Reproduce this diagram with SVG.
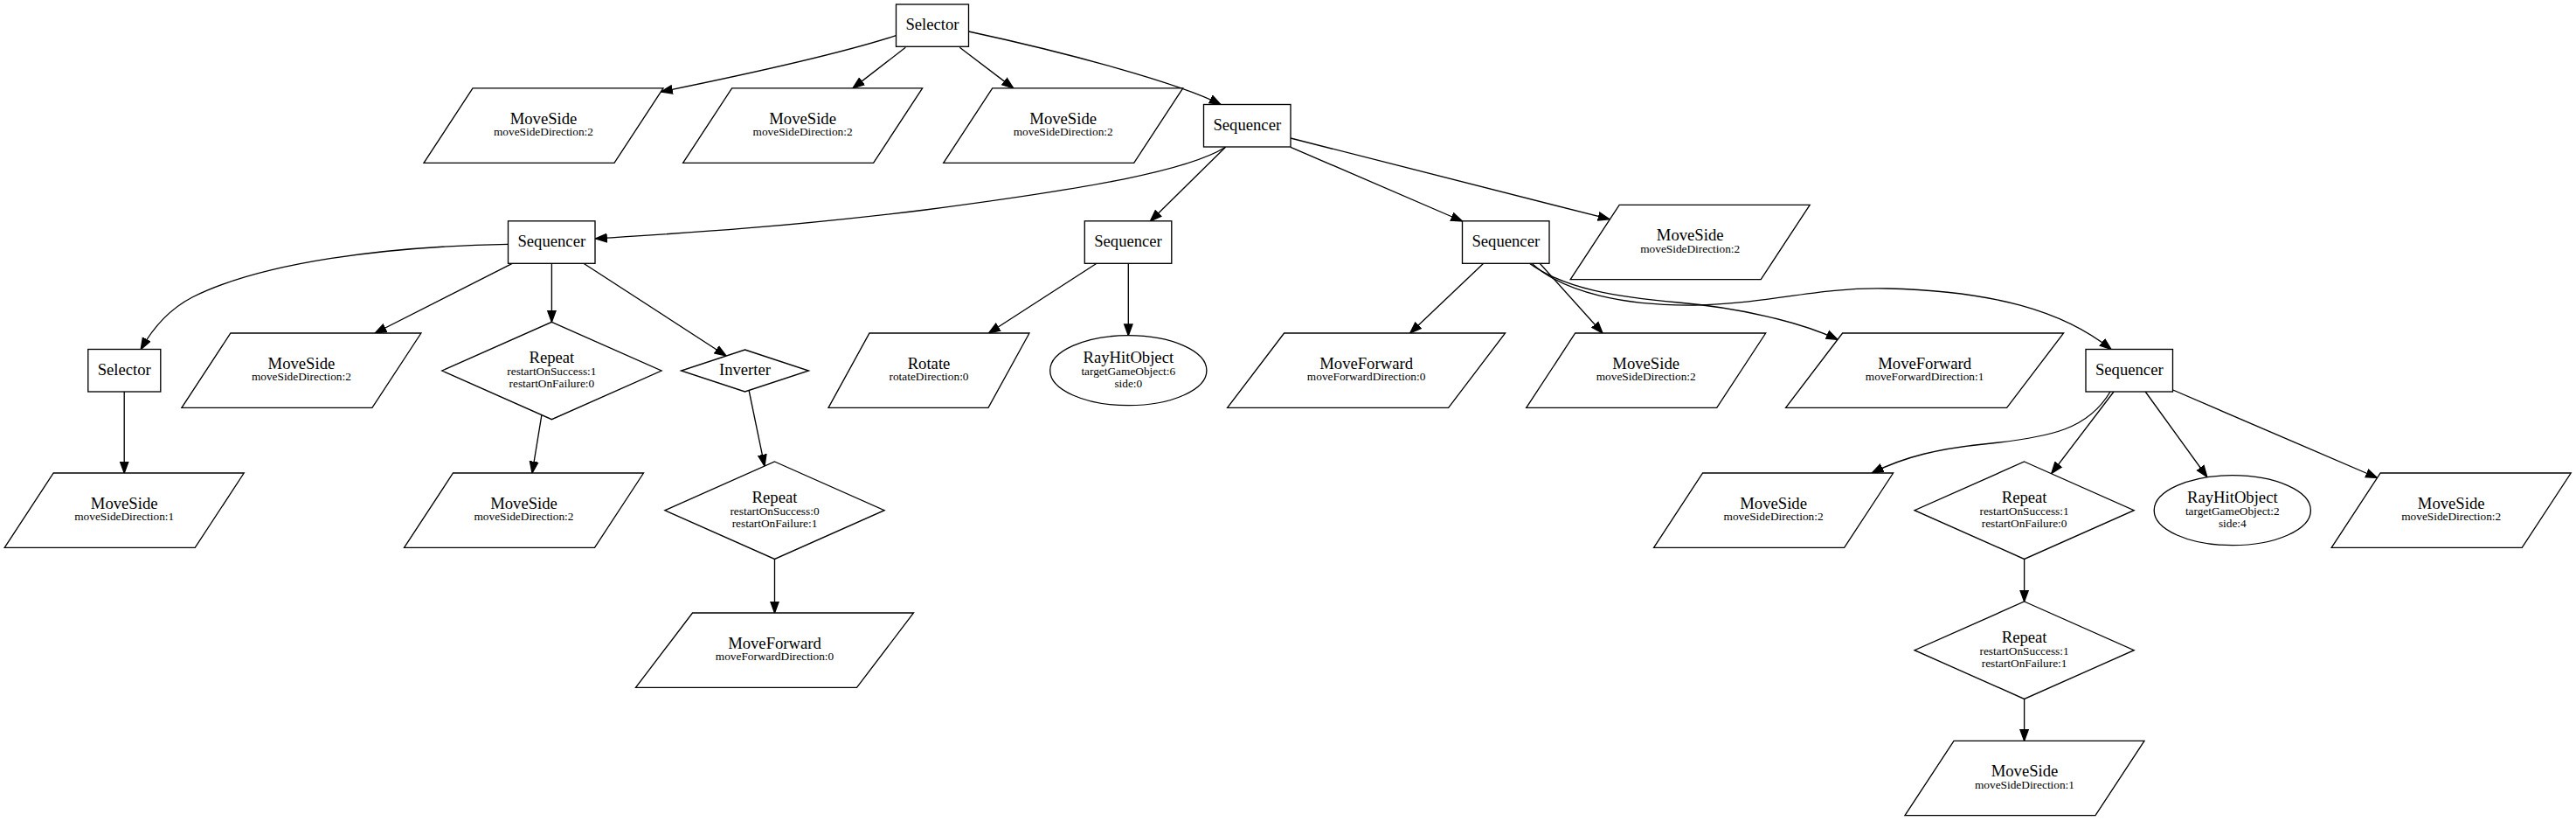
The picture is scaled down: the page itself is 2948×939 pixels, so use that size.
<svg xmlns="http://www.w3.org/2000/svg" width="2948" height="939" viewBox="0 0 2948 939">
<style>
.n polygon, .n rect, .n ellipse { fill: #fff; stroke: #000; stroke-width: 1.33; }
.e path { fill: none; stroke: #000; stroke-width: 1.33; marker-end: url(#arr); }
text { font-family: "Liberation Serif", "Times New Roman", serif; text-anchor: middle; fill: #000; }
.m { font-size: 18.67px; }
.s { font-size: 13.33px; }
</style>
<defs>
<marker id="arr" markerUnits="userSpaceOnUse" markerWidth="16" markerHeight="12" refX="13.3" refY="6" orient="auto" viewBox="0 0 16 12">
<path d="M0.5,1.33 L13.3,6 L0.5,10.67 Z" fill="#000" stroke="#000" stroke-width="1.33"/>
</marker>
</defs>
<rect x="0" y="0" width="2948" height="939" fill="#fff"/>

<g id="connectors" class="e">
<path d="M1025.4,40.7 C960,62 840,88 756.5,105"/>
<path d="M1036.3,54.3 L976,100.9"/>
<path d="M1098.3,54.3 L1159.7,100.9"/>
<path d="M1108.5,36 C1220,60 1350,95 1397,119.5"/>
<path d="M1402.5,168.3 C1360,195 1250,215 1059,240 C900,260 760,268 681.5,273"/>
<path d="M1402.5,168.3 L1316.4,253"/>
<path d="M1477,168.3 L1673.5,253"/>
<path d="M1477,158 L1842,250.7"/>
<path d="M581.5,279.3 C440,282 300,300 220,340 C195,353 175,375 161.2,399.5"/>
<path d="M586.2,301.3 L429.1,381"/>
<path d="M631.4,301.3 L631.4,368.3"/>
<path d="M667.9,301.3 L831,407"/>
<path d="M142.2,448 L142.2,541"/>
<path d="M619.9,474.6 L609,541"/>
<path d="M857.1,446.5 L875,533"/>
<path d="M886.5,639.4 L886.5,701"/>
<path d="M1255,301.3 L1131.5,381"/>
<path d="M1291.3,301.3 L1291.3,383.7"/>
<path d="M1697.7,301.3 L1613.7,381"/>
<path d="M1762.2,301.3 L1834,381"/>
<path d="M1750.3,301.3 C1790,330 1850,340 1921,346 C1990,352 2060,368 2103,388.3"/>
<path d="M1753,301.3 C1790,335 1860,350 1940,349 C2020,348 2080,328 2160,330 C2280,333 2360,355 2416,399.5"/>
<path d="M2415,448 C2390,490 2350,500 2270,508 C2220,513 2180,522 2142.3,541"/>
<path d="M2419,448 L2347.8,541.5"/>
<path d="M2455.2,448 L2525.8,545.5"/>
<path d="M2486.7,446 L2720.5,546.5"/>
<path d="M2316.6,639.4 L2316.6,688"/>
<path d="M2316.6,799.4 L2316.6,847.3"/>
</g>

<g id="selector_root" class="n"><rect x="1025.5" y="5" width="83" height="48.3"/><text class="m" x="1067" y="34">Selector</text></g>

<g id="moveside_1" class="n"><polygon points="541,100.9 759,100.9 703,186.3 485,186.3"/><text class="m" x="622" y="141.6">MoveSide</text><text class="s" x="622" y="155.1">moveSideDirection:2</text></g>
<g id="moveside_2" class="n"><polygon points="837.6,100.9 1055.6,100.9 999.6,186.3 781.6,186.3"/><text class="m" x="918.6" y="141.6">MoveSide</text><text class="s" x="918.6" y="155.1">moveSideDirection:2</text></g>
<g id="moveside_3" class="n"><polygon points="1135.7,100.9 1353.7,100.9 1297.7,186.3 1079.7,186.3"/><text class="m" x="1216.7" y="141.6">MoveSide</text><text class="s" x="1216.7" y="155.1">moveSideDirection:2</text></g>
<g id="sequencer_1" class="n"><rect x="1377.5" y="119.5" width="99.5" height="48.5"/><text class="m" x="1427.3" y="148.7">Sequencer</text></g>

<g id="sequencer_l" class="n"><rect x="581.5" y="252.8" width="99.5" height="48.5"/><text class="m" x="631.3" y="282">Sequencer</text></g>
<g id="sequencer_m" class="n"><rect x="1241.3" y="252.8" width="99.5" height="48.5"/><text class="m" x="1291" y="282">Sequencer</text></g>
<g id="sequencer_r" class="n"><rect x="1673.5" y="252.8" width="99.5" height="48.5"/><text class="m" x="1723.3" y="282">Sequencer</text></g>
<g id="moveside_4" class="n"><polygon points="1853.2,234.3 2071.2,234.3 2015.2,319.7 1797.2,319.7"/><text class="m" x="1934.2" y="275">MoveSide</text><text class="s" x="1934.2" y="288.5">moveSideDirection:2</text></g>

<g id="selector_2" class="n"><rect x="100.8" y="399.5" width="83" height="48.5"/><text class="m" x="142.2" y="428.8">Selector</text></g>
<g id="moveside_5" class="n"><polygon points="263.9,381 481.9,381 425.9,466.4 207.9,466.4"/><text class="m" x="344.9" y="421.7">MoveSide</text><text class="s" x="344.9" y="435.2">moveSideDirection:2</text></g>
<g id="repeat_1" class="n"><polygon points="631.4,368.3 757,424 631.4,479.7 505.8,424"/><text class="m" x="631.4" y="415.3">Repeat</text><text class="s" x="631.4" y="429">restartOnSuccess:1</text><text class="s" x="631.4" y="442.8">restartOnFailure:0</text></g>
<g id="inverter" class="n"><polygon points="852.5,400 925.5,424 852.5,448 779.5,424"/><text class="m" x="852.5" y="429.2">Inverter</text></g>
<g id="rotate" class="n"><polygon points="995,381 1178,381 1131,466.4 948,466.4"/><text class="m" x="1063" y="421.7">Rotate</text><text class="s" x="1063" y="435.2">rotateDirection:0</text></g>
<g id="rayhit_1" class="n"><ellipse cx="1291.3" cy="423.7" rx="89.6" ry="40"/><text class="m" x="1291.3" y="414.9">RayHitObject</text><text class="s" x="1291.3" y="428.8">targetGameObject:6</text><text class="s" x="1291.3" y="442.6">side:0</text></g>
<g id="moveforward_2" class="n"><polygon points="1469.6,381 1722.6,381 1657.6,466.4 1404.6,466.4"/><text class="m" x="1563.6" y="421.7">MoveForward</text><text class="s" x="1563.6" y="435.2">moveForwardDirection:0</text></g>
<g id="moveside_6" class="n"><polygon points="1802.7,381 2020.7,381 1964.7,466.4 1746.7,466.4"/><text class="m" x="1883.7" y="421.7">MoveSide</text><text class="s" x="1883.7" y="435.2">moveSideDirection:2</text></g>
<g id="moveforward_3" class="n"><polygon points="2108.6,381 2361.6,381 2296.6,466.4 2043.6,466.4"/><text class="m" x="2202.6" y="421.7">MoveForward</text><text class="s" x="2202.6" y="435.2">moveForwardDirection:1</text></g>
<g id="sequencer_rr" class="n"><rect x="2387" y="399.5" width="99.5" height="48.5"/><text class="m" x="2436.8" y="428.8">Sequencer</text></g>

<g id="moveside_7" class="n"><polygon points="61.2,541 279.2,541 223.2,626.4 5.2,626.4"/><text class="m" x="142.2" y="581.7">MoveSide</text><text class="s" x="142.2" y="595.2">moveSideDirection:1</text></g>
<g id="moveside_8" class="n"><polygon points="518.5,541 736.5,541 680.5,626.4 462.5,626.4"/><text class="m" x="599.5" y="581.7">MoveSide</text><text class="s" x="599.5" y="595.2">moveSideDirection:2</text></g>
<g id="repeat_2" class="n"><polygon points="886.5,528 1012.1,583.7 886.5,639.4 760.9,583.7"/><text class="m" x="886.5" y="575">Repeat</text><text class="s" x="886.5" y="588.7">restartOnSuccess:0</text><text class="s" x="886.5" y="602.5">restartOnFailure:1</text></g>
<g id="moveside_9" class="n"><polygon points="1948.6,541 2166.6,541 2110.6,626.4 1892.6,626.4"/><text class="m" x="2029.6" y="581.7">MoveSide</text><text class="s" x="2029.6" y="595.2">moveSideDirection:2</text></g>
<g id="repeat_3" class="n"><polygon points="2316.6,528 2442.2,583.7 2316.6,639.4 2191,583.7"/><text class="m" x="2316.6" y="575">Repeat</text><text class="s" x="2316.6" y="588.7">restartOnSuccess:1</text><text class="s" x="2316.6" y="602.5">restartOnFailure:0</text></g>
<g id="rayhit_2" class="n"><ellipse cx="2554.8" cy="583.7" rx="89.6" ry="40"/><text class="m" x="2554.8" y="574.9">RayHitObject</text><text class="s" x="2554.8" y="588.8">targetGameObject:2</text><text class="s" x="2554.8" y="602.6">side:4</text></g>
<g id="moveside_10" class="n"><polygon points="2724.2,541 2942.2,541 2886.2,626.4 2668.2,626.4"/><text class="m" x="2805.2" y="581.7">MoveSide</text><text class="s" x="2805.2" y="595.2">moveSideDirection:2</text></g>

<g id="moveforward_1" class="n"><polygon points="792.5,701 1045.5,701 980.5,786.4 727.5,786.4"/><text class="m" x="886.5" y="741.7">MoveForward</text><text class="s" x="886.5" y="755.2">moveForwardDirection:0</text></g>
<g id="repeat_4" class="n"><polygon points="2316.6,688 2442.2,743.7 2316.6,799.4 2191,743.7"/><text class="m" x="2316.6" y="735">Repeat</text><text class="s" x="2316.6" y="748.7">restartOnSuccess:1</text><text class="s" x="2316.6" y="762.5">restartOnFailure:1</text></g>

<g id="moveside_11" class="n"><polygon points="2236,847.3 2454,847.3 2398,932.7 2180,932.7"/><text class="m" x="2317" y="888">MoveSide</text><text class="s" x="2317" y="901.5">moveSideDirection:1</text></g>
</svg>
